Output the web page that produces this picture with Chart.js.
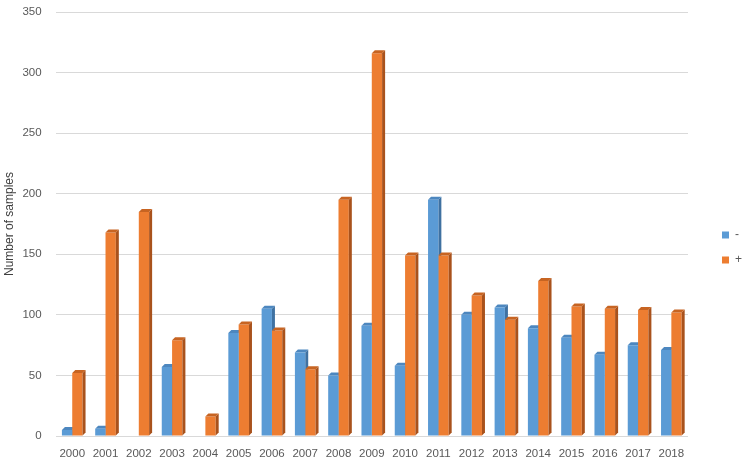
<!DOCTYPE html>
<html>
<head>
<meta charset="utf-8">
<script src="https://cdn.jsdelivr.net/npm/chart.js@4"></script>
<style>
  html, body { margin: 0; padding: 0; background: #fff; }
  #wrap { width: 744px; height: 465px; }
</style>
</head>
<body>
<div id="wrap"><canvas id="myChart"></canvas></div>
<script>
const years = ['2000', '2001', '2002', '2003', '2004', '2005', '2006', '2007', '2008', '2009',
    '2010', '2011', '2012', '2013', '2014', '2015', '2016', '2017', '2018'];
const negative = [5, 6, 0, 57, 0, 85, 105, 69, 50, 91, 58, 195, 100, 106, 89, 81, 67, 75, 71];
const positive = [52, 168, 185, 79, 16, 92, 87, 55, 195, 316, 149, 149, 116, 96, 128, 107, 105, 104, 102];
const yTicks = [0, 50, 100, 150, 200, 250, 300, 350];

// side + top faces so the bars look like the excel 3d columns
const DEPTH_X = 3;
const DEPTH_Y = 3;
const faceColors = [
    { side: '#3f71a1', top: '#4d87bf' },
    { side: '#a9521c', top: '#c76422' }
];

function drawDepth(chart, datasetIndex) {
    const ctx = chart.ctx;
    const meta = chart.getDatasetMeta(datasetIndex);
    const cols = faceColors[datasetIndex];
    ctx.save();
    for (let bar of meta.data) {
        const p = bar.getProps(['x', 'y', 'base', 'width'], true);
        if (Math.abs(p.base - p.y) < 0.5) continue;
        const x0 = p.x - p.width / 2;
        const x1 = p.x + p.width / 2;
        // side
        ctx.fillStyle = cols.side;
        ctx.beginPath();
        ctx.moveTo(x1, p.y);
        ctx.lineTo(x1 + DEPTH_X, p.y - DEPTH_Y);
        ctx.lineTo(x1 + DEPTH_X, p.base - DEPTH_Y);
        ctx.lineTo(x1, p.base);
        ctx.closePath();
        ctx.fill();
        // top
        ctx.fillStyle = cols.top;
        ctx.beginPath();
        ctx.moveTo(x0, p.y);
        ctx.lineTo(x0 + DEPTH_X, p.y - DEPTH_Y);
        ctx.lineTo(x1 + DEPTH_X, p.y - DEPTH_Y);
        ctx.lineTo(x1, p.y);
        ctx.closePath();
        ctx.fill();
    }
    ctx.restore();
}

const depthPlugin = {
    id: 'depth',
    afterLayout(chart) {
        // legend sits further right and a bit lower than chart.js puts it
        chart.legend.left += 21;
        chart.legend.right += 21;
        chart.legend.top += 15;
        chart.legend.bottom += 15;
    },
    beforeDatasetsDraw(chart) {
        drawDepth(chart, 0);
    },
    afterDatasetsDraw(chart) {
        drawDepth(chart, 1);
    }
};

Chart.defaults.font.family = '"Liberation Sans", Arial, sans-serif';
Chart.defaults.color = '#595959';

var ctx = document.getElementById('myChart').getContext('2d');

var myChart = new Chart(ctx, {
    type: 'bar',
    data: {
        labels: years,
        datasets: [
            {
                label: '-',
                data: negative,
                backgroundColor: '#5b9bd5',
                borderWidth: 0
            },
            {
                label: '+',
                data: positive,
                backgroundColor: '#ed7d31',
                borderWidth: 0
            }
        ]
    },
    options: {
        responsive: true,
        maintainAspectRatio: false,
        animation: false,
        layout: {
            padding: { top: 0, right: 13, bottom: 0, left: 2 }
        },
        datasets: {
            bar: {
                barPercentage: 1,
                categoryPercentage: 0.62
            }
        },
        plugins: {
            legend: {
                position: 'right',
                labels: {
                    boxWidth: 7,
                    boxHeight: 7,
                    padding: 13,
                    font: { size: 12 },
                    color: '#595959'
                }
            },
            tooltip: { enabled: false }
        },
        scales: {
            x: {
                grid: { display: false, drawTicks: false },
                border: { display: false },
                ticks: {
                    font: { size: 11.5 },
                    maxRotation: 0,
                    padding: 11
                },
                afterFit: (axis) => {
                    axis.height = 29;
                }
            },
            y: {
                min: 0,
                max: 350,
                afterBuildTicks: (axis) => {
                    axis.ticks = yTicks.map(v => ({ value: v }));
                },
                afterFit: (axis) => {
                    axis.paddingTop = 12;
                    axis.paddingBottom = 0;
                },
                grid: {
                    color: '#d9d9d9',
                    lineWidth: 1,
                    drawTicks: false
                },
                border: { display: false },
                ticks: {
                    font: { size: 11.5 },
                    padding: 14
                },
                title: {
                    display: true,
                    text: 'Number of samples',
                    font: { size: 12 },
                    color: '#404040',
                    padding: { top: 0, bottom: -8 }
                }
            }
        }
    },
    plugins: [depthPlugin]
});
</script>
</body>
</html>
